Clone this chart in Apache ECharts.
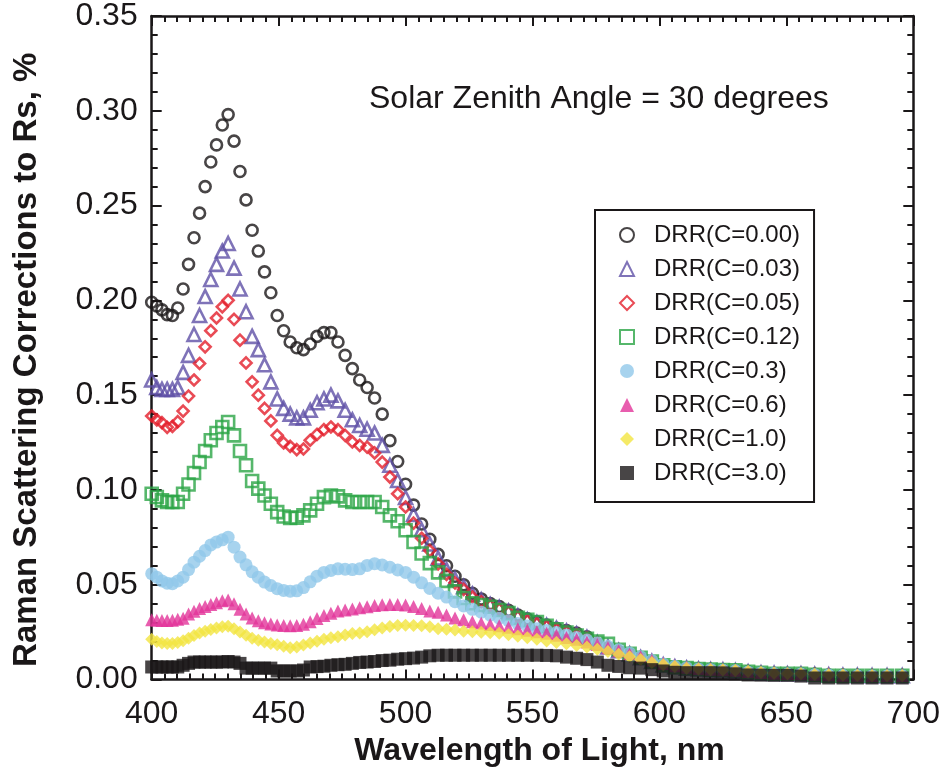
<!DOCTYPE html>
<html>
<head>
<meta charset="utf-8">
<script src="https://cdn.jsdelivr.net/npm/echarts@6/dist/echarts.min.js"></script>
<style>
html,body{margin:0;padding:0;background:#fff;}
#chart{width:943px;height:773px;}
</style>
</head>
<body>
<div id="chart"></div>
<script>
// Wavelength (nm) of each sample
const wavelength = [
400.00,402.01,404.04,406.09,408.16,410.26,412.37,414.51,416.67,418.85,
421.05,423.28,425.53,427.81,430.11,432.43,434.78,437.16,439.56,441.99,
444.44,446.93,449.44,451.98,454.55,457.14,459.77,462.43,465.12,467.84,
470.59,473.37,476.19,479.04,481.93,484.85,487.80,490.80,493.83,496.89,
500.00,503.14,506.33,509.55,512.82,516.13,519.48,522.88,526.32,529.80,
533.33,536.91,540.54,544.22,547.95,551.72,555.56,559.44,563.38,567.38,
571.43,575.54,579.71,583.94,588.24,592.59,597.01,601.50,606.06,610.69,
615.38,620.16,625.00,629.92,634.92,640.00,645.16,650.41,655.74,661.16,
666.67,672.27,677.97,683.76,689.66,695.65];

const drrC000 = [
0.199,0.197,0.195,0.1925,0.192,0.196,0.206,0.219,0.233,0.246,
0.260,0.273,0.282,0.2925,0.298,0.284,0.268,0.253,0.237,0.226,
0.215,0.204,0.192,0.184,0.178,0.175,0.174,0.177,0.181,0.183,
0.183,0.178,0.171,0.164,0.158,0.154,0.1485,0.140,0.126,0.115,
0.103,0.092,0.082,0.074,0.066,0.060,0.0545,0.050,0.0455,0.0425,
0.040,0.0385,0.0365,0.034,0.032,0.0305,0.0287,0.027,0.0258,0.0245,
0.0225,0.0188,0.0165,0.0148,0.0135,0.0115,0.0095,0.0078,0.0068,0.006,
0.0055,0.0052,0.005,0.0047,0.004,0.0035,0.0032,0.003,0.003,0.0027,
0.0024,0.0022,0.0021,0.002,0.002,0.002];

const drrC003 = [
0.158,0.154,0.153,0.153,0.153,0.154,0.162,0.171,0.182,0.192,
0.202,0.211,0.219,0.226,0.230,0.217,0.206,0.194,0.181,0.174,
0.166,0.157,0.148,0.143,0.140,0.138,0.138,0.142,0.146,0.148,
0.150,0.147,0.142,0.137,0.134,0.132,0.130,0.1235,0.113,0.105,
0.096,0.087,0.079,0.0715,0.064,0.058,0.053,0.049,0.045,0.042,
0.0395,0.038,0.036,0.0335,0.0315,0.030,0.0285,0.027,0.0255,0.024,
0.0222,0.0195,0.0172,0.0152,0.0135,0.0115,0.0095,0.0077,0.0067,0.006,
0.0055,0.0052,0.005,0.0047,0.004,0.0035,0.0032,0.003,0.003,0.0027,
0.0024,0.0022,0.0021,0.002,0.002,0.002];

const drrC005 = [
0.139,0.137,0.1355,0.133,0.1335,0.136,0.1416,0.1495,0.158,0.1667,
0.1755,0.184,0.1907,0.1966,0.200,0.190,0.179,0.167,0.157,0.150,
0.143,0.1364,0.1288,0.1248,0.123,0.1213,0.1216,0.1262,0.1293,0.1318,
0.1332,0.1318,0.1288,0.1253,0.1235,0.1226,0.1195,0.1147,0.1068,0.098,
0.091,0.0825,0.0745,0.068,0.061,0.0555,0.051,0.0475,0.0435,0.041,
0.039,0.037,0.0355,0.033,0.031,0.0295,0.028,0.0265,0.025,0.0235,
0.022,0.0195,0.017,0.015,0.0133,0.0113,0.0093,0.0076,0.0066,0.006,
0.0055,0.0052,0.005,0.0047,0.004,0.0035,0.0032,0.003,0.003,0.0027,
0.0024,0.0022,0.0021,0.002,0.002,0.002];

const drrC012 = [
0.098,0.0963,0.0945,0.0936,0.0936,0.0936,0.098,0.1029,0.1089,0.1147,
0.1205,0.1262,0.130,0.1332,0.1358,0.1288,0.1205,0.113,0.1047,0.1007,
0.0971,0.0927,0.0883,0.086,0.0852,0.0854,0.0866,0.0892,0.0927,0.0962,
0.0971,0.0966,0.0945,0.0936,0.0936,0.0936,0.0936,0.091,0.0866,0.0835,
0.0787,0.0725,0.0665,0.0614,0.0565,0.052,0.0465,0.043,0.0402,0.0393,
0.0384,0.0367,0.035,0.0325,0.0315,0.0303,0.0283,0.0265,0.0248,0.0232,
0.0215,0.020,0.0188,0.0157,0.0135,0.0115,0.0095,0.0075,0.0065,0.006,
0.0055,0.0052,0.005,0.0048,0.004,0.0035,0.003,0.003,0.003,0.0025,
0.002,0.002,0.002,0.002,0.002,0.002];

const drrC030 = [
0.0558,0.054,0.052,0.0508,0.0505,0.052,0.054,0.058,0.0619,0.065,
0.068,0.071,0.0725,0.0737,0.0751,0.0698,0.0646,0.0605,0.0568,0.054,
0.0514,0.0496,0.0479,0.047,0.0466,0.0468,0.0485,0.0515,0.0545,0.0565,
0.0575,0.0584,0.0582,0.058,0.0584,0.0602,0.0611,0.0604,0.0592,0.0578,
0.0565,0.054,0.051,0.048,0.0455,0.0435,0.041,0.0388,0.037,0.0355,
0.034,0.0323,0.031,0.0295,0.0282,0.0268,0.0258,0.0248,0.0235,0.0222,
0.0208,0.0192,0.0175,0.0157,0.014,0.012,0.010,0.0082,0.007,0.0062,
0.0056,0.0053,0.005,0.0047,0.004,0.0036,0.0033,0.003,0.003,0.0027,
0.0024,0.0022,0.0021,0.002,0.002,0.002];

const drrC060 = [
0.0315,0.0312,0.0311,0.0311,0.0313,0.0318,0.0323,0.0345,0.036,0.0375,
0.0385,0.0395,0.0405,0.0415,0.042,0.040,0.037,0.0345,0.0325,0.031,
0.030,0.0293,0.0288,0.0285,0.0284,0.0285,0.0292,0.0305,0.0322,0.0338,
0.035,0.0362,0.0367,0.0372,0.0378,0.0384,0.039,0.0394,0.0396,0.0396,
0.0393,0.0385,0.0375,0.0362,0.0355,0.034,0.0325,0.0315,0.0305,0.0298,
0.029,0.0283,0.0276,0.0268,0.026,0.0252,0.0244,0.0234,0.0222,0.0212,
0.0198,0.0185,0.0168,0.0152,0.0135,0.012,0.0102,0.0085,0.0072,0.0064,
0.0058,0.0054,0.0052,0.0049,0.0042,0.0037,0.0033,0.0031,0.003,0.0028,
0.0025,0.0023,0.0022,0.0021,0.0021,0.0021];

const drrC100 = [
0.0212,0.020,0.0192,0.019,0.019,0.0195,0.0205,0.0218,0.0232,0.0245,
0.0255,0.0264,0.0272,0.0278,0.0281,0.0268,0.025,0.0234,0.0218,0.0207,
0.0198,0.019,0.0183,0.0175,0.0168,0.0172,0.0182,0.0192,0.0202,0.0212,
0.022,0.0226,0.0235,0.0242,0.0245,0.0252,0.0262,0.0272,0.028,0.0285,
0.0286,0.0285,0.0283,0.0278,0.0268,0.0265,0.0261,0.0255,0.0252,0.0249,
0.0247,0.0244,0.0236,0.0228,0.022,0.0212,0.0203,0.0195,0.0188,0.018,
0.0172,0.016,0.0148,0.0133,0.012,0.0105,0.009,0.0078,0.0068,0.006,
0.0055,0.0052,0.005,0.0047,0.0042,0.0037,0.0033,0.003,0.003,0.0027,
0.0024,0.0022,0.0021,0.002,0.002,0.002];

const drrC300 = [
0.0066,0.0066,0.0066,0.0066,0.0066,0.0066,0.0075,0.0085,0.0092,0.0092,
0.0092,0.0092,0.0092,0.0092,0.0095,0.0092,0.0085,0.006,0.006,0.006,
0.006,0.006,0.0045,0.0045,0.0045,0.0045,0.005,0.0066,0.0068,0.007,
0.0075,0.0078,0.008,0.0085,0.009,0.0092,0.0095,0.010,0.0102,0.0107,
0.011,0.0113,0.0118,0.0125,0.0128,0.0128,0.0128,0.0128,0.0128,0.0128,
0.0128,0.0128,0.0128,0.0128,0.0128,0.0128,0.0127,0.0125,0.0118,0.0112,
0.0105,0.0092,0.0075,0.0069,0.0062,0.006,0.0052,0.0045,0.0038,0.0036,
0.0036,0.0036,0.0035,0.003,0.0024,0.0023,0.0022,0.0022,0.0018,0.0008,
0.0008,0.0008,0.0008,0.0008,0.0008,0.0008];

const seriesNames = ['DRR(C=0.00)','DRR(C=0.03)','DRR(C=0.05)','DRR(C=0.12)','DRR(C=0.3)','DRR(C=0.6)','DRR(C=1.0)','DRR(C=3.0)'];
const xTicks = [400,450,500,550,600,650,700];
const yTicks = [0.00,0.05,0.10,0.15,0.20,0.25,0.30,0.35];

const INK = '#1a1718';
const FONT = '"Liberation Sans", Arial, Helvetica, sans-serif';

const styles = [
  {symbol:'circle',   size:11, hollow:true,  color:INK},
  {symbol:'triangle', size:13, hollow:true,  color:'#5f50a6'},
  {symbol:'diamond',  size:11, hollow:true,  color:'#e41e2b'},
  {symbol:'rect',     size:12, hollow:true,  color:'#2ca546'},
  {symbol:'circle',   size:13, hollow:false, color:'#91c8ea'},
  {symbol:'triangle', size:13, hollow:false, color:'#e2349a'},
  {symbol:'diamond',  size:13, hollow:false, color:'#f2e541'},
  {symbol:'rect',     size:13, hollow:false, color:INK}
];
const values = [drrC000,drrC003,drrC005,drrC012,drrC030,drrC060,drrC100,drrC300];

const series = values.map((vals, i) => {
  const s = styles[i];
  return {
    name: seriesNames[i],
    type: 'scatter',
    symbol: s.symbol,
    symbolSize: s.size,
    xAxisIndex: 0, yAxisIndex: 0,
    data: wavelength.map((w, k) => [w, vals[k]]),
    itemStyle: s.hollow
      ? {color: 'rgba(255,255,255,0)', borderColor: s.color, borderWidth: 2.6}
      : {color: s.color, borderWidth: 0},
    emphasis: {disabled: true},
    z: 2 + i
  };
});

const axisCommon = (isX, pos, showLabel) => ({
  type: 'value',
  position: pos,
  min: isX ? xTicks[0] : yTicks[0],
  max: isX ? xTicks[xTicks.length-1] : yTicks[yTicks.length-1],
  interval: isX ? 50 : 0.05,
  axisLine: {show: true, onZero: false, lineStyle: {color: INK, width: 2.5}},
  axisTick: {show: true, inside: true, length: 10, lineStyle: {color: INK, width: 2}},
  minorTick: {show: true, splitNumber: isX ? 10 : 5, length: 6, lineStyle: {color: INK, width: 2}},
  splitLine: {show: false},
  minorSplitLine: {show: false},
  axisLabel: {
    show: showLabel,
    fontSize: 32, fontFamily: FONT, color: INK,
    margin: isX ? 19 : 14,
    formatter: isX ? (v => String(v)) : (v => v.toFixed(2))
  }
});

const option = {
  animation: false,
  backgroundColor: '#fff',
  title: {
    text: 'Solar Zenith Angle = 30 degrees',
    left: 369, top: 83, padding: 0,
    textStyle: {fontSize: 32, fontWeight: 'normal', fontFamily: FONT, color: INK}
  },
  grid: {left: 151.7, right: 28, top: 16, bottom: 93.5, containLabel: false},
  legend: {
    orient: 'vertical',
    left: 595, top: 210,
    data: seriesNames,
    itemWidth: 14, itemHeight: 14, itemGap: 10,
    padding: [13, 14, 17, 24],
    borderColor: INK, borderWidth: 2,
    selectedMode: false,
    textStyle: {fontSize: 24, fontFamily: FONT, color: INK, padding: [0, 0, 0, 15]}
  },
  xAxis: [
    Object.assign(axisCommon(true, 'bottom', true), {
      name: 'Wavelength of Light, nm', nameLocation: 'middle', nameGap: 53,
      nameTextStyle: {fontSize: 32, fontWeight: 'bold', fontFamily: FONT, color: INK, padding: [0, 0, 0, 14]}
    }),
    axisCommon(true, 'top', false)
  ],
  yAxis: [
    Object.assign(axisCommon(false, 'left', true), {
      name: 'Raman Scattering Corrections to Rs, %', nameLocation: 'middle', nameGap: 108,
      nameTextStyle: {fontSize: 33, fontWeight: 'bold', fontFamily: FONT, color: INK, padding: [0, 24, 0, 0]}
    }),
    axisCommon(false, 'right', false)
  ],
  series: series
};

const chart = echarts.init(document.getElementById('chart'), null, {renderer: 'canvas'});
chart.setOption(option);
</script>
</body>
</html>
